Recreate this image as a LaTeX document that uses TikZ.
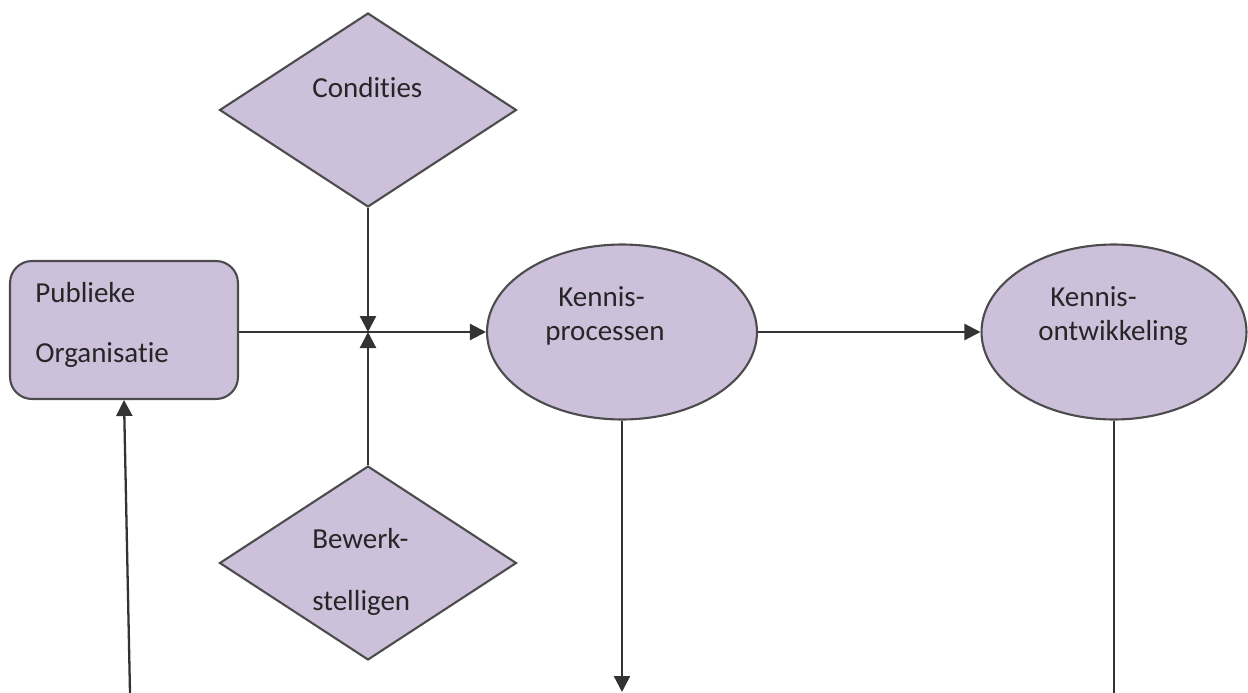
\documentclass[tikz,border=0pt]{standalone}
\usepackage{fontspec}
\setmainfont[Ligatures={NoCommon}]{Carlito}
\usetikzlibrary{shapes.geometric,arrows.meta}
\definecolor{lila}{HTML}{CCC0DA}

\begin{document}
\begin{tikzpicture}[x=0.02cm,y=-0.02cm,
  vorm/.style={draw=black!70,line width=1.2pt,fill=lila,inner sep=0pt},
  ruit/.style={vorm,diamond,minimum width=5.94cm,minimum height=3.88cm},
  ovaal/.style={vorm,ellipse,minimum height=3.5cm},
  tekst/.style={anchor=base west,inner sep=0pt,text=black!85,font=\fontsize{16.5}{20}\selectfont},
  pijl/.style={line width=1.3pt,draw=black!80,-{Triangle[length=0.32cm,width=0.32cm]}},
  lijn/.style={line width=1.3pt,draw=black!80}]

\useasboundingbox (0,0) rectangle (1248,693);

\node[ruit] (cond) at (368,110) {};
\node[ruit] (bew) at (368,563) {};
\node[vorm,rounded corners=0.44cm,minimum width=4.56cm,minimum height=2.76cm] (org) at (124,330) {};
\node[ovaal,minimum width=5.4cm] (proc) at (622,332) {};
\node[ovaal,minimum width=5.3cm] (ontw) at (1114,332) {};

% teksten
\node[tekst] (cond-a) at (312,97) {Condities};
\node[tekst] (org-a) at (35,302) {Publieke};
\node[tekst] (org-b) at (35,362) {Organisatie};
\node[tekst] (proc-a) at (558,306) {Kennis-};
\node[tekst] (proc-b) at (545,340) {processen};
\node[tekst] (ontw-a) at (1050,306) {Kennis-};
\node[tekst] (ontw-b) at (1038,340) {ontwikkeling};
\node[tekst] (bew-a) at (312,548) {Bewerk-};
\node[tekst] (bew-b) at (312,610) {stelligen};

\coordinate (kruis) at (368,332);
\coordinate (proc-uit) at (622,692);
\coordinate (ontw-uit) at (1114,693);
\coordinate (org-in) at (130,693);

\draw[pijl] (org.east |- kruis) -- (proc.west);
\draw[pijl] (cond) -- (kruis);
\draw[pijl] (bew) -- (kruis);
\draw[pijl] (proc) -- (ontw);
\draw[pijl] (proc) -- (proc-uit);
\draw[lijn] (ontw) -- (ontw-uit);
\draw[pijl] (org-in) -- (org.south);

\end{tikzpicture}
\end{document}
